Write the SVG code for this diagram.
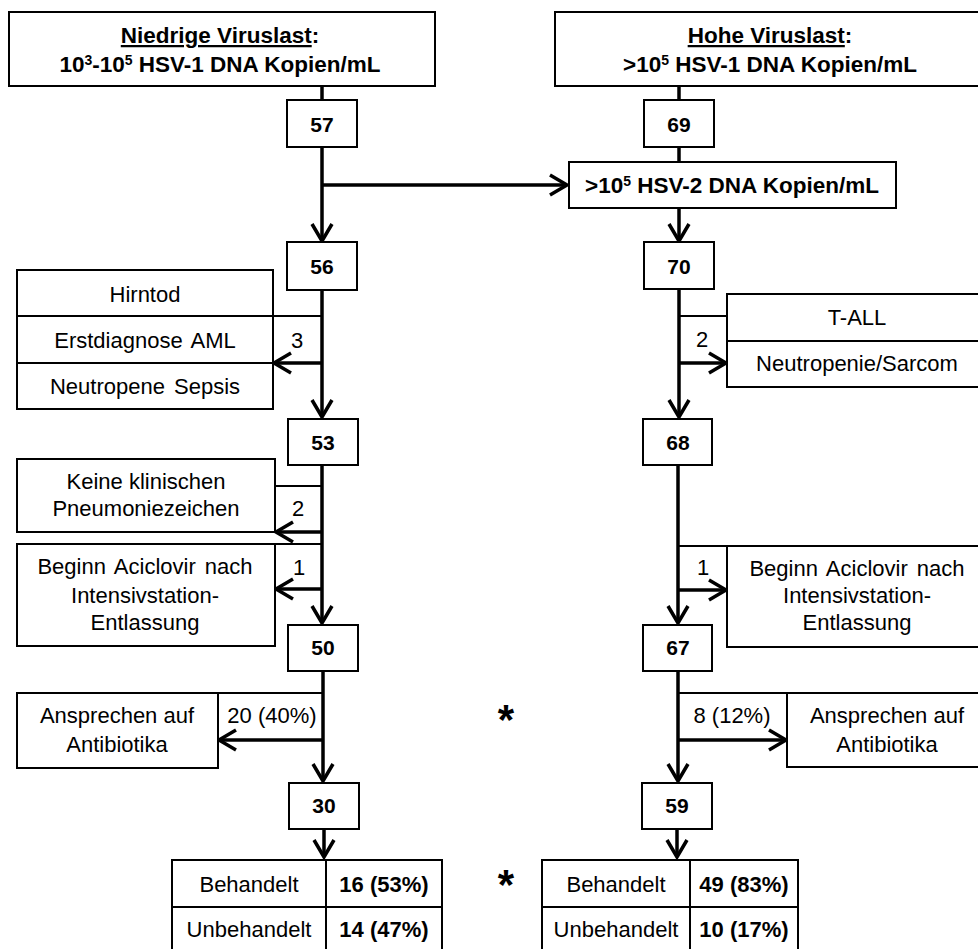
<svg xmlns="http://www.w3.org/2000/svg" width="978" height="949" viewBox="0 0 978 949">
<style>
.box{fill:#fff;stroke:#000;stroke-width:2}
.div{stroke:#000;stroke-width:2;fill:none}
.thick{stroke:#000;stroke-width:3.5;fill:none}
.thin{stroke:#000;stroke-width:2;fill:none}
.arr{stroke:#000;stroke-width:3.5;fill:none;marker-end:url(#ah)}
text{font-family:"Liberation Sans",Arial,sans-serif;font-size:22px;text-anchor:middle;fill:#000}
.ti{font-size:22.5px;font-weight:bold}
.n{font-size:21px;font-weight:bold}
.b{font-weight:bold}
.ast{font-size:42px;font-weight:bold}
</style>
<defs>
<marker id="ah" markerUnits="userSpaceOnUse" markerWidth="26" markerHeight="26" refX="18" refY="11" orient="auto" overflow="visible">
<path d="M1,1 L18,11 L1,21" fill="none" stroke="#000" stroke-width="3.5"/>
</marker>
</defs>

<g id="connectors">
<!-- left column -->
<path class="thick" d="M322,86 V100"/>
<path class="arr" d="M322,147 V241"/>
<path class="arr" d="M322,185 H567"/>
<path class="arr" d="M322,290 V417"/>
<path class="thin" d="M273,316 H322"/>
<path class="arr" d="M322,363 H274"/>
<path class="arr" d="M322,465 V623"/>
<path class="thin" d="M275,486 H322"/>
<path class="arr" d="M322,532 H276"/>
<path class="thin" d="M275,544 H322"/>
<path class="arr" d="M322,589 H276"/>
<path class="arr" d="M323,671 V781"/>
<path class="thin" d="M218,693 H323"/>
<path class="arr" d="M323,740 H219"/>
<path class="arr" d="M324,829 V857"/>
<!-- right column -->
<path class="thick" d="M679,86 V100"/>
<path class="thick" d="M679,147 V162"/>
<path class="arr" d="M679,208 V241"/>
<path class="arr" d="M679,289 V417"/>
<path class="thin" d="M679,316 H727"/>
<path class="arr" d="M679,363 H726"/>
<path class="arr" d="M678,465 V623"/>
<path class="thin" d="M678,546 H727"/>
<path class="arr" d="M678,590 H726"/>
<path class="arr" d="M678,671 V781"/>
<path class="thin" d="M678,693 H787"/>
<path class="arr" d="M678,740 H786"/>
<path class="arr" d="M677,829 V857"/>
</g>

<g id="edge-labels">
<text x="297" y="348">3</text>
<text x="298" y="516">2</text>
<text x="299" y="575">1</text>
<text x="272" y="723">20 (40%)</text>
<text x="702" y="347">2</text>
<text x="703" y="575">1</text>
<text x="732" y="723">8 (12%)</text>
</g>

<g id="low-load">
<rect class="box" x="9" y="12" width="426" height="74"/>
<text class="ti" x="220" y="43"><tspan text-decoration="underline">Niedrige Viruslast</tspan>:</text>
<text class="ti" x="220" y="72">10<tspan font-size="14" dy="-7">3</tspan><tspan dy="7">-10</tspan><tspan font-size="14" dy="-7">5</tspan><tspan dy="7"> HSV-1 DNA Kopien/mL</tspan></text>
</g>

<g id="high-load">
<rect class="box" x="555" y="12" width="435" height="74"/>
<text class="ti" x="770" y="43"><tspan text-decoration="underline">Hohe Viruslast</tspan>:</text>
<text class="ti" x="770" y="72">&gt;10<tspan font-size="14" dy="-7">5</tspan><tspan dy="7"> HSV-1 DNA Kopien/mL</tspan></text>
</g>

<g id="n57"><rect class="box" x="287" y="100" width="70" height="47"/><text class="n" x="322" y="132">57</text></g>
<g id="n69"><rect class="box" x="644" y="100" width="70" height="47"/><text class="n" x="679" y="132">69</text></g>

<g id="hsv2">
<rect class="box" x="569" y="162" width="327" height="46"/>
<text class="ti" x="732" y="193">&gt;10<tspan font-size="14" dy="-7">5</tspan><tspan dy="7"> HSV-2 DNA Kopien/mL</tspan></text>
</g>

<g id="n56"><rect class="box" x="287" y="242" width="70" height="48"/><text class="n" x="322" y="274">56</text></g>
<g id="n70"><rect class="box" x="644" y="242" width="70" height="47"/><text class="n" x="679" y="274">70</text></g>

<g id="exit-left-1">
<rect class="box" x="17" y="270" width="256" height="139"/>
<path class="div" d="M17,316 H273 M17,363 H273"/>
<text x="145" y="302">Hirntod</text>
<text x="145" y="348" word-spacing="3">Erstdiagnose AML</text>
<text x="145" y="394" word-spacing="3">Neutropene Sepsis</text>
</g>

<g id="exit-right-1">
<rect class="box" x="727" y="294" width="263" height="93"/>
<path class="div" d="M727,341 H990"/>
<text x="857" y="325">T-ALL</text>
<text x="857" y="371">Neutropenie/Sarcom</text>
</g>

<g id="n53"><rect class="box" x="288" y="419" width="70" height="46"/><text class="n" x="323" y="450">53</text></g>
<g id="n68"><rect class="box" x="643" y="419" width="69" height="46"/><text class="n" x="678" y="450">68</text></g>

<g id="exit-left-2">
<rect class="box" x="17" y="459" width="258" height="73"/>
<text x="146" y="489">Keine klinischen</text>
<text x="146" y="516">Pneumoniezeichen</text>
</g>

<g id="exit-left-3">
<rect class="box" x="17" y="544" width="258" height="102"/>
<text x="145" y="574" word-spacing="3">Beginn Aciclovir nach</text>
<text x="145" y="603">Intensivstation-</text>
<text x="145" y="630">Entlassung</text>
</g>

<g id="exit-right-2">
<rect class="box" x="727" y="546" width="263" height="101"/>
<text x="857" y="576" word-spacing="3">Beginn Aciclovir nach</text>
<text x="857" y="603">Intensivstation-</text>
<text x="857" y="630">Entlassung</text>
</g>

<g id="n50"><rect class="box" x="288" y="625" width="70" height="46"/><text class="n" x="323" y="655">50</text></g>
<g id="n67"><rect class="box" x="643" y="625" width="69" height="46"/><text class="n" x="678" y="655">67</text></g>

<g id="exit-left-4">
<rect class="box" x="17" y="693" width="201" height="75"/>
<text x="117" y="723">Ansprechen auf</text>
<text x="117" y="752">Antibiotika</text>
</g>

<g id="exit-right-4">
<rect class="box" x="787" y="693" width="203" height="74"/>
<text x="887" y="723">Ansprechen auf</text>
<text x="887" y="752">Antibiotika</text>
</g>

<g id="n30"><rect class="box" x="289" y="783" width="70" height="46"/><text class="n" x="324" y="813">30</text></g>
<g id="n59"><rect class="box" x="642" y="783" width="70" height="46"/><text class="n" x="677" y="813">59</text></g>

<g id="table-left">
<rect class="box" x="172" y="860" width="270" height="96"/>
<path class="div" d="M326,860 V956 M172,907 H442"/>
<text x="249" y="892">Behandelt</text>
<text class="b" x="384" y="892">16 (53%)</text>
<text x="249" y="937">Unbehandelt</text>
<text class="b" x="384" y="937">14 (47%)</text>
</g>

<g id="table-right">
<rect class="box" x="542" y="860" width="256" height="96"/>
<path class="div" d="M690,860 V956 M542,907 H798"/>
<text x="616" y="892">Behandelt</text>
<text class="b" x="744" y="892">49 (83%)</text>
<text x="616" y="937">Unbehandelt</text>
<text class="b" x="744" y="937">10 (17%)</text>
</g>

<g id="significance">
<text class="ast" x="506" y="734">*</text>
<text class="ast" x="506" y="899">*</text>
</g>
</svg>
